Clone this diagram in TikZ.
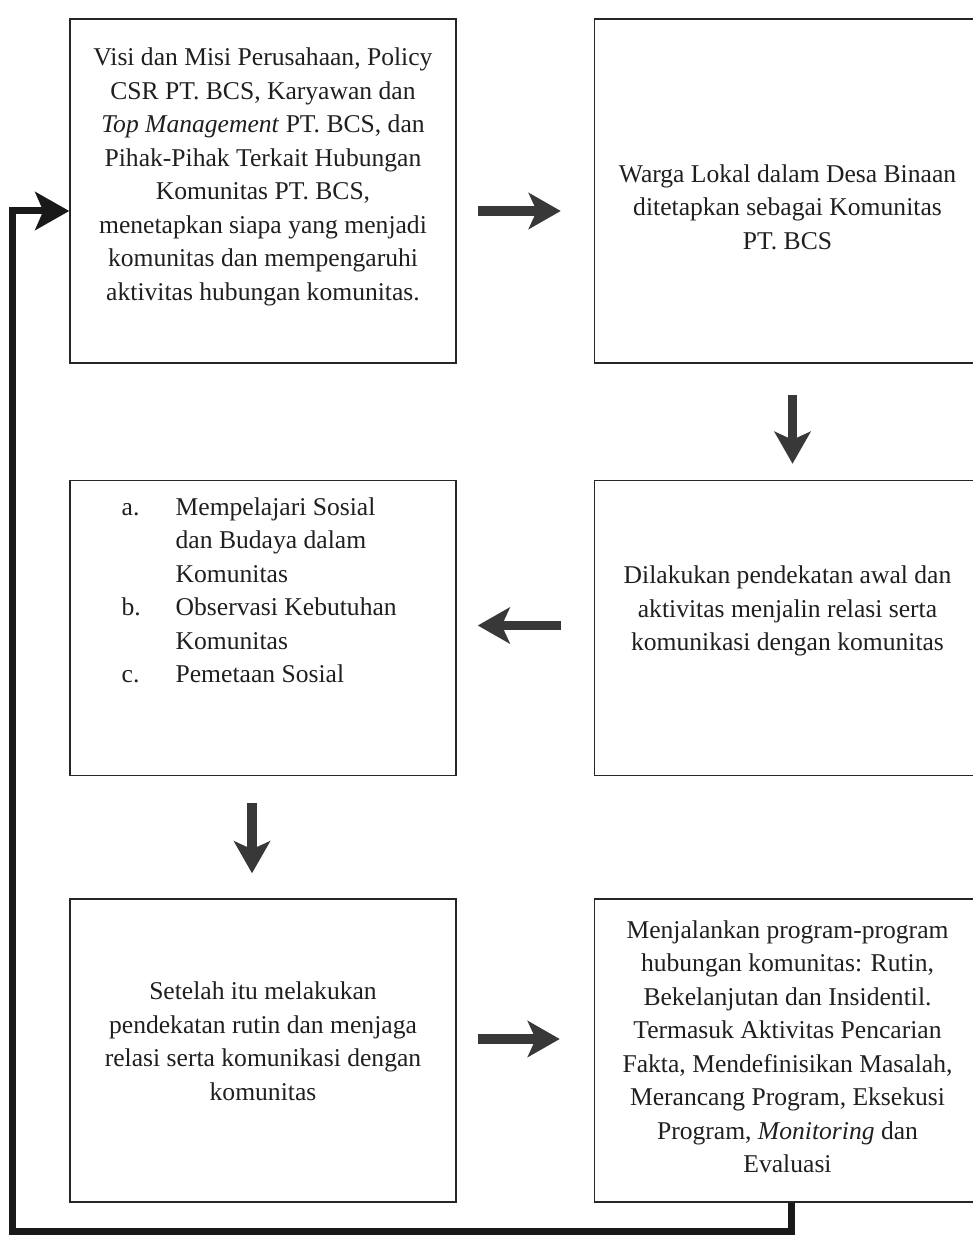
\documentclass[tikz,border=0pt]{standalone}
\usepackage{fontspec}
\setmainfont{Liberation Serif}
\usetikzlibrary{positioning}
\usetikzlibrary{arrows.meta}
\tikzset{node distance=58pt and 68.5pt, % Gaps between neighbouring boxes
kotak/.style={ % Sets the properties for each box
draw=black!85,
line width=0.75pt,
minimum width=193pt,
inner sep=0pt},
teks/.style={ % Text set inside the boxes
align=center,
inner sep=0pt,
text=black!88,
font=\fontsize{12.8}{16.75}\selectfont},
panah/.style={ % Thick block arrows between the boxes
draw=black!78,
line width=4.8pt,
-{Stealth[width=18pt,length=16pt,inset=4pt]}},
balik/.style={ % Feedback line back to the first box
draw=black!90,
line width=3.5pt,
-{Stealth[width=19pt,length=17pt,inset=4pt]}}}

\begin{document}
\begin{tikzpicture}[x=0.5pt, y=-0.5pt]
	\useasboundingbox (0,0) rectangle (973,1235);

	\node[kotak, minimum height=172pt] (visi) at (263,191) {};
	\node[kotak, minimum height=172pt, right=of visi] (warga) {};
	\node[kotak, minimum height=147.5pt, below=of warga] (awal) {};
	\node[kotak, minimum height=147.5pt, left=of awal] (kajian) {};
	\node[kotak, minimum height=151.5pt, below=61pt of kajian] (rutin) {};
	\node[kotak, minimum height=151.5pt, right=of rutin] (program) {};

	\node[teks] (visi-t) at ([yshift=7pt]visi.center) {Visi dan Misi Perusahaan, Policy\\ CSR PT. BCS, Karyawan dan\\ \textit{Top Management} PT. BCS, dan\\ Pihak-Pihak Terkait Hubungan\\ Komunitas PT. BCS,\\ menetapkan siapa yang menjadi\\ komunitas dan mempengaruhi\\ aktivitas hubungan komunitas.};
	\node[teks] (warga-t) at ([yshift=-8pt]warga.center) {Warga Lokal dalam Desa Binaan\\ ditetapkan sebagai Komunitas\\ PT. BCS};
	\node[teks] (awal-t) at ([yshift=8.5pt]awal.center) {Dilakukan pendekatan awal dan\\ aktivitas menjalin relasi serta\\ komunikasi dengan komunitas};
	\node[teks, anchor=west, align=left] (kajian-t) at ([xshift=26pt,yshift=17.75pt]kajian.west) {\begin{tabular}{@{}p{27pt}@{}l@{}}
	a. & Mempelajari Sosial\\
	   & dan Budaya dalam\\
	   & Komunitas\\
	b. & Observasi Kebutuhan\\
	   & Komunitas\\
	c. & Pemetaan Sosial
	\end{tabular}};
	\node[teks] (rutin-t) at ([yshift=4.75pt]rutin.center) {Setelah itu melakukan\\ pendekatan rutin dan menjaga\\ relasi serta komunikasi dengan\\ komunitas};
	\node[teks] (program-t) at ([yshift=2pt]program.center) {Menjalankan program-program\\ hubungan komunitas: Rutin,\\ Bekelanjutan dan Insidentil.\\ Termasuk Aktivitas Pencarian\\ Fakta, Mendefinisikan Masalah,\\ Merancang Program, Eksekusi\\ Program, \textit{Monitoring} dan\\ Evaluasi};

	\coordinate (sudut) at (12,1231);

	\draw ([xshift=10.5pt,yshift=-10pt]visi.east) edge[panah] ([xshift=-16.5pt,yshift=-10pt]warga.west);
	\draw ([xshift=2.5pt,yshift=-15.5pt]warga.south) edge[panah] ([xshift=2.5pt,yshift=8pt]awal.north);
	\draw ([xshift=-16.5pt,yshift=1.25pt]awal.west) edge[panah] ([xshift=10.5pt,yshift=1.25pt]kajian.east);
	\draw ([xshift=-5.5pt,yshift=-13.5pt]kajian.south) edge[panah] ([xshift=-5.5pt,yshift=12.5pt]rutin.north);
	\draw ([xshift=10.5pt,yshift=5.75pt]rutin.east) edge[panah] ([xshift=-17pt,yshift=5.75pt]program.west);
	\draw[balik] ([xshift=2pt]program.south) |- (sudut) |- ([yshift=-10pt]visi.west);
\end{tikzpicture}
\end{document}
